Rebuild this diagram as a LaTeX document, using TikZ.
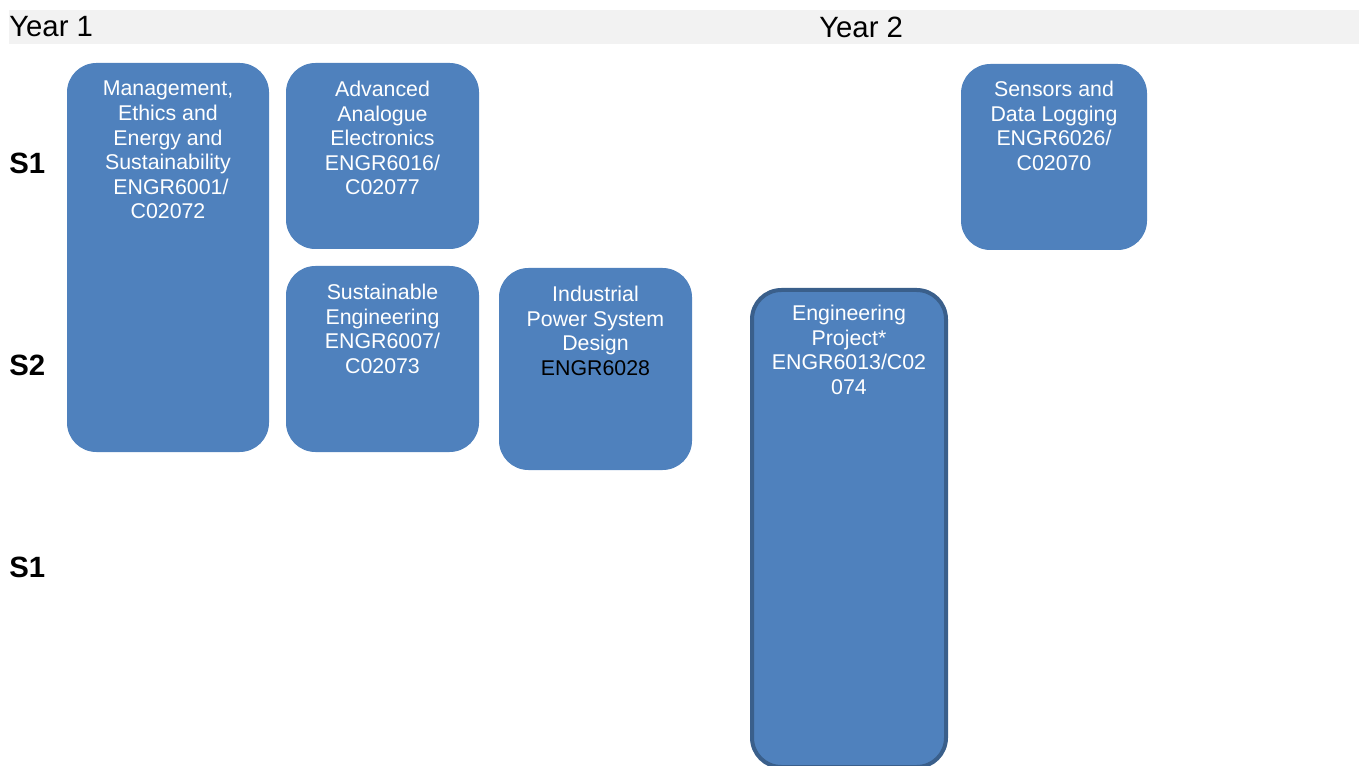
\documentclass[tikz,border=0pt]{standalone}
\usepackage{fontspec}
\setmainfont{Liberation Sans}
\begin{document}
\begin{tikzpicture}[x=0.75pt,y=-0.75pt,
  box/.style={fill=boxblue,draw=none,rounded corners=22pt,inner sep=0pt},
  projbox/.style={box,draw=boxedge,line width=3pt},
  boxtext/.style={anchor=north,inner sep=0pt,text=white,align=center,font=\fontsize{16}{18.4}\selectfont},
  sem/.style={anchor=west,inner sep=0pt,font=\fontsize{22}{26}\selectfont\bfseries},
  year/.style={anchor=west,inner sep=0pt,font=\fontsize{22}{26}\selectfont}]
\definecolor{boxblue}{HTML}{4F81BD}
\definecolor{boxedge}{HTML}{3A5F8B}
\definecolor{band}{HTML}{F2F2F2}
\useasboundingbox (0,0) rectangle (1359,766);
\begin{scope}
\clip (0,0) rectangle (1359,766);
\fill[band] (9,10) rectangle (1359,44);
\node[year] (y1) at (9,27) {Year 1};
\node[year] (y2) at (819,27) {Year 2};
\node[sem] (s1a) at (9,163) {S1};
\node[sem] (s2) at (9,365) {S2};
\node[sem] (s1b) at (9,567) {S1};
% boxes
\node[box,minimum width=151.5pt,minimum height=291.75pt] (m) at (168,257.5) {};
\node[boxtext] (mt) at (168,81) {Management,\\Ethics and\\Energy and\\Sustainability\\\ ENGR6001/\\C02072};
\node[box,minimum width=144.75pt,minimum height=139.5pt] (a) at (382.5,156) {};
\node[boxtext] (at) at (382.5,81) {Advanced\\Analogue\\Electronics\\ENGR6016/\\C02077};
\node[box,minimum width=139.5pt,minimum height=139.5pt] (s) at (1054,157) {};
\node[boxtext] (st) at (1054,81) {Sensors and\\Data Logging\\ENGR6026/\\C02070};
\node[box,minimum width=144.75pt,minimum height=139.5pt] (e) at (382.5,359) {};
\node[boxtext] (et) at (382.5,284) {Sustainable\\Engineering\\ENGR6007/\\C02073};
\node[box,minimum width=144.75pt,minimum height=151.5pt] (i) at (595.5,369) {};
\node[boxtext] (it) at (595.5,286) {Industrial\\Power System\\Design\\\textcolor{black}{ENGR6028}};
\node[projbox,minimum width=145.5pt,minimum height=357.75pt] (p) at (849,528.5) {};
\node[boxtext] (pt) at (849,305) {Engineering\\Project*\\ENGR6013/C02\\074};
\end{scope}
\end{tikzpicture}
\end{document}
